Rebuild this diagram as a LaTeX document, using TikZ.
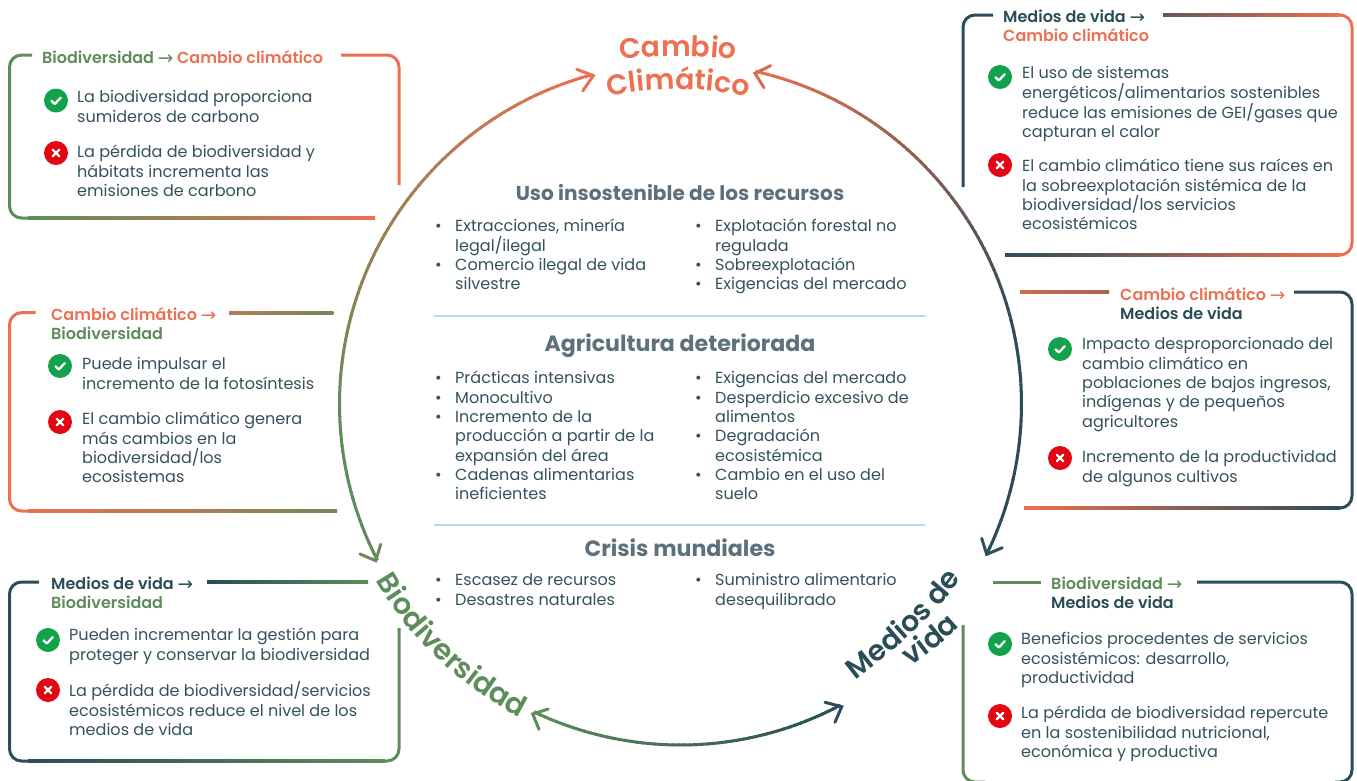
\documentclass[tikz,border=0pt]{standalone}
\usepackage{fontspec}
\usetikzlibrary{decorations.text,calc}
\setmainfont{Poppins}
\newfontfamily\semi{Poppins SemiBold}
\newfontfamily\boldf{Poppins Bold}
\newfontfamily\arrowf{DejaVu Sans}
\definecolor{ora}{HTML}{EC7051}
\definecolor{grn}{HTML}{5E8C5B}
\definecolor{drk}{HTML}{2A4D57}
\definecolor{txt}{HTML}{34525C}
\definecolor{gry}{HTML}{5D707C}
\definecolor{rul}{HTML}{BDD5EA}
\definecolor{okc}{HTML}{12A24B}
\definecolor{noc}{HTML}{E30613}
\newcommand\curvefont{\semi\fontsize{28.4}{28}\selectfont}
\newcommand\arr{\raisebox{-1.6pt}{\arrowf\fontsize{18.5}{18.5}\selectfont →}}
\tikzset{
 bodytx/.style={anchor=north west,inner sep=0pt,align=left,text=txt,font=\fontsize{16.05}{19.3}\selectfont},
 headtx/.style={anchor=north west,inner sep=0pt,align=left,font=\semi\fontsize{16}{19.6}\selectfont},
 ctitle/.style={anchor=base,inner sep=0pt,text=gry,font=\boldf\fontsize{#1}{24}\selectfont},
 boxline/.style={line width=3pt,rounded corners=12pt},
 okdot/.style={circle,fill=okc,minimum size=24pt,inner sep=0pt},
 nodot/.style={circle,fill=noc,minimum size=24pt,inner sep=0pt},
 glyphline/.style={draw=white,line width=2.3pt,line cap=round,line join=round},
 chev/.style={line width=3pt,line cap=round,line join=miter},
 rulebar/.style={draw=rul,line width=2pt}
}
% body text: name, x, y of first line's centre, text
\newcommand\tb[4]{\node[bodytx] (#1) at ([yshift=8.4pt]#2,#3) {\rule{0pt}{14pt}#4};}
\newcommand\hd[4]{\node[headtx] (#1) at ([yshift=8pt]#2,#3) {\rule{0pt}{14pt}#4};}
\newcommand\okic[3]{\node[okdot] (#1) at (#2,#3) {};
 \draw[glyphline] ($(#1)+(-4.6,0.3)$) -- ($(#1)+(-1.2,3.4)$) -- ($(#1)+(4.8,-2.8)$);}
\newcommand\noic[3]{\node[nodot] (#1) at (#2,#3) {};
 \draw[glyphline] ($(#1)+(-3.2,-3.2)$) -- ($(#1)+(3.2,3.2)$);
 \draw[glyphline] ($(#1)+(-3.2,3.2)$) -- ($(#1)+(3.2,-3.2)$);}
% horizontal gradient stroke: x1,x2,y,colA,colB
\newcommand\gl[5]{\shade[left color=#4,right color=#5] (#1,#3-1.5) rectangle (#2,#3+1.5);}
\newcommand\bu{\llap{\raisebox{0pt}{•}\hspace{13.5pt}}}
% gradient arc: start, end, step, colA, colB, gain
\newcommand\garc[6]{%
 \pgfmathsetmacro\stp{#3}
 \pgfmathsetmacro\nn{int(abs(#2-#1)/abs(#3))}
 \foreach \i in {1,...,\nn}{%
  \pgfmathsetmacro\aa{#1+(\i-1)*\stp}
  \pgfmathsetmacro\bb{\i==\nn ? #2 : #1+(\i+0.25)*\stp}
  \pgfmathtruncatemacro\pp{min(100,100*#6*(\i/\nn))}
  \draw[line width=3pt,color=#5!\pp!#4] ([shift={(680.5,404)}]\aa:341) -- ([shift={(680.5,404)}]\bb:341);
 }}
\begin{document}
\begin{tikzpicture}[x=1pt,y=-1pt]
\useasboundingbox (0,0) rectangle (1357,780);
\fill[white] (0,0) rectangle (1357,780);

% --- circle arcs
\garc{255.1}{152.7}{-1.0}{ora}{grn}{1.25}
\garc{282.7}{386.2}{1.0}{ora}{drk}{1.6}
\garc{115.5}{62}{-1.0}{grn}{drk}{1.0}
\coordinate (tipA) at (593.3,75.7);
\coordinate (tipB) at (755,73.3);
\coordinate (tipC) at (375.7,560.7);
\coordinate (tipD) at (532.7,714);
\coordinate (tipE) at (841.7,706.7);
\coordinate (tipF) at (986.7,554.3);
\draw[chev,ora] (576.7,69.3) -- (tipA) -- (582.7,91);
\draw[chev,ora!90!drk] (770.7,65.7) -- (tipB) -- (764,87.7);
\draw[chev,color=grn!90!ora] (360,554) -- (tipC) -- (380.7,544.3);
\draw[chev,grn] (548.3,709) -- (tipD) -- (539,729.3);
\draw[chev,drk] (825,702.3) -- (tipE) -- (835,722.3);
\draw[chev,drk!90!gry] (981.7,538.3) -- (tipF) -- (1002.3,547.7);

% --- curved labels
\path[decorate,decoration={text along path,text align=center,text color=ora,text={|\curvefont|Cambio}}]
  (618,60) .. controls (650,55) and (700,55) .. (738,60);
\path[decorate,decoration={text along path,text align=center,text color=ora,text={|\curvefont|Climático}}]
  (606,97) .. controls (650,87) and (705,87) .. (750,97);
\path[decorate,decoration={text along path,text align=center,text color=grn,text={|\semi\fontsize{28.8}{28}\selectfont|Biodiversidad}}]
  ([shift={(680.5,404)}]151:352) arc[start angle=151,end angle=116,radius=352];
\path[decorate,decoration={text along path,text align=center,text color=drk,text={|\curvefont|Medios de}}]
  (853,682) .. controls (890,653) and (930,623) .. (963,576);
\path[decorate,decoration={text along path,text align=center,text color=drk,text={|\curvefont|vida}}]
  (905,670) .. controls (925,657) and (945,642) .. (965,622);

% --- box 1
\draw[boxline,grn] (32,55) -- (9.5,55) -- (9.5,218) -- (32,218);
\gl{28}{375}{218}{grn}{ora}
\draw[boxline,ora] (341,55) -- (399,55) -- (399,185);
\hd{h1}{42}{57}{\textcolor{grn}{Biodiversidad \arr} \textcolor{ora}{Cambio climático}}
\okic{o1}{56}{100.5}
\tb{t1}{77}{97}{La biodiversidad proporciona\\sumideros de carbono}
\noic{n1}{56}{153}
\tb{t2}{77}{152}{La pérdida de biodiversidad y\\hábitats incrementa las\\emisiones de carbono}

% --- box 2
\draw[boxline,ora] (35.7,312.7) -- (9.5,312.7) -- (9.5,511) -- (32,511);
\gl{28}{337}{511}{ora}{grn!85!ora}
\gl{229}{333.3}{312.7}{ora!60!grn}{grn!85!ora}
\hd{h2}{51}{314}{\textcolor{ora}{Cambio climático \arr}\\\textcolor{grn}{Biodiversidad}}
\okic{o2}{60}{366}
\tb{t3}{82}{364}{Puede impulsar el\\incremento de la fotosíntesis}
\noic{n2}{60}{422}
\tb{t4}{82}{419}{El cambio climático genera\\más cambios en la\\biodiversidad/los\\ecosistemas}

% --- box 3
\draw[boxline,drk] (39,582) -- (9.5,582) -- (9.5,761) -- (32,761);
\gl{28}{385}{761}{drk}{grn}
\gl{207}{368}{582}{drk}{grn}
\draw[boxline,grn] (380,761) -- (399,761) -- (399,628);
\hd{h3}{51}{583}{\textcolor{drk}{Medios de vida \arr}\\\textcolor{grn}{Biodiversidad}}
\okic{o3}{48}{640}
\tb{t5}{69}{635}{Pueden incrementar la gestión para\\proteger y conservar la biodiversidad}
\noic{n3}{48}{690}
\tb{t6}{69}{690}{La pérdida de biodiversidad/servicios\\ecosistémicos reduce el nivel de los\\medios de vida}

% --- box 4
\draw[boxline,drk] (993,15) -- (963,15) -- (963,187);
\gl{1163}{1340}{15}{drk!70!ora}{ora}
\draw[boxline,ora] (1335,15) -- (1352,15) -- (1352,255) -- (1335,255);
\gl{1005}{1340}{255}{drk}{ora}
\hd{h4}{1003}{16}{\textcolor{drk}{Medios de vida \arr}\\\textcolor{ora}{Cambio climático}}
\okic{o4}{1000}{77}
\tb{t7}{1022}{73}{El uso de sistemas\\energéticos/alimentarios sostenibles\\reduce las emisiones de GEI/gases que\\capturan el calor}
\noic{n4}{1000}{165}
\tb{t8}{1022}{166}{El cambio climático tiene sus raíces en\\la sobreexplotación sistémica de la\\biodiversidad/los servicios\\ecosistémicos}

% --- box 5
\gl{1020}{1109}{292}{ora!85!drk}{ora!65!drk}
\draw[boxline,drk] (1294,292) -- (1352,292) -- (1352,508) -- (1335,508);
\gl{1024}{1340}{508}{ora}{drk}
\hd{h5}{1120}{294}{\textcolor{ora}{Cambio climático \arr}\\\textcolor{drk}{Medios de vida}}
\okic{o5}{1060}{349}
\tb{t9}{1082}{344}{Impacto desproporcionado del\\cambio climático en\\poblaciones de bajos ingresos,\\indígenas y de pequeños\\agricultores}
\noic{n5}{1060}{458}
\tb{t10}{1082}{457}{Incremento de la productividad\\de algunos cultivos}

% --- box 6
\draw[line width=3pt,grn] (993,582) -- (1041,582);
\draw[boxline,drk] (1197,582) -- (1352,582) -- (1352,782) -- (1335,782);
\draw[boxline,grn] (963,625) -- (963,782) -- (985,782);
\hd{h6}{1051}{583}{\textcolor{grn}{Biodiversidad \arr}\\\textcolor{drk}{Medios de vida}}
\okic{o6}{1000}{644}
\tb{t11}{1021}{639}{Beneficios procedentes de servicios\\ecosistémicos: desarrollo,\\productividad}
\noic{n6}{1000}{716}
\tb{t12}{1021}{713}{La pérdida de biodiversidad repercute\\en la sostenibilidad nutricional,\\económica y productiva}

% --- centre
\node[ctitle=20.1] (u) at (680,200.5) {Uso insostenible de los recursos};
\tb{ua}{455}{226}{\bu Extracciones, minería\\legal/ilegal\\\bu Comercio ilegal de vida\\silvestre}
\tb{ub}{715}{226}{\bu Explotación forestal no\\regulada\\\bu Sobreexplotación\\\bu Exigencias del mercado}
\coordinate (r1a) at (434,316); \coordinate (r1b) at (925,316);
\draw[rulebar] (r1a) -- (r1b);
\node[ctitle=22.1] (a) at (680,351.5) {Agricultura deteriorada};
\tb{aa}{455}{378}{\bu Prácticas intensivas\\\bu Monocultivo\\\bu Incremento de la\\producción a partir de la\\expansión del área\\\bu Cadenas alimentarias\\ineficientes}
\tb{ab}{715}{378}{\bu Exigencias del mercado\\\bu Desperdicio excesivo de\\alimentos\\\bu Degradación\\ecosistémica\\\bu Cambio en el uso del\\suelo}
\coordinate (r2a) at (434,525); \coordinate (r2b) at (925,525);
\draw[rulebar] (r2a) -- (r2b);
\node[ctitle=22.1] (c) at (680,556) {Crisis mundiales};
\tb{ca}{455}{580}{\bu Escasez de recursos\\\bu Desastres naturales}
\tb{cb}{715}{580}{\bu Suministro alimentario\\desequilibrado}
\end{tikzpicture}
\end{document}
